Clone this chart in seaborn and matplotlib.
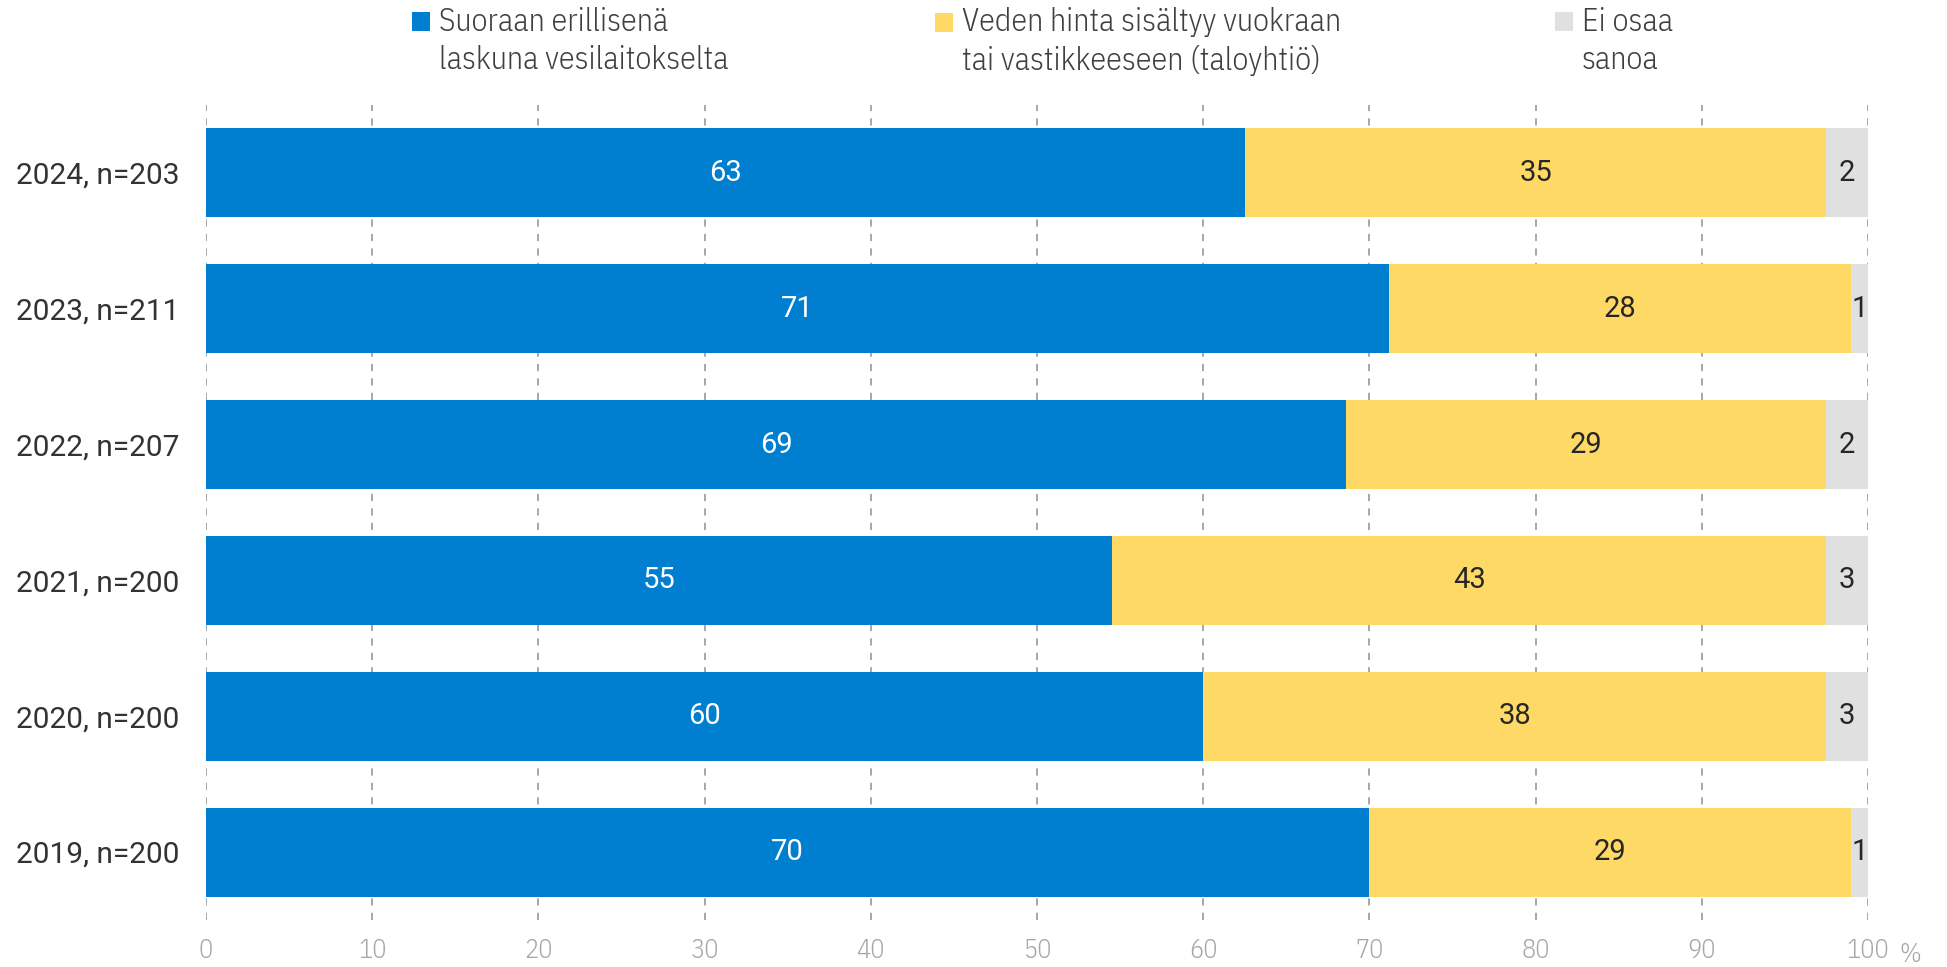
import matplotlib
matplotlib.use("Agg")
import matplotlib.pyplot as plt
import seaborn as sns
import pandas as pd
from matplotlib.font_manager import FontProperties
from matplotlib.legend_handler import HandlerPatch, update_from_first_child
from matplotlib.patches import Rectangle
from matplotlib.container import BarContainer

categories = ["2024, n=203", "2023, n=211", "2022, n=207", "2021, n=200", "2020, n=200", "2019, n=200"]
series_names = ["Suoraan erillisenä\nlaskuna vesilaitokselta",
                "Veden hinta sisältyy vuokraan\ntai vastikkeeseen (taloyhtiö)",
                "Ei osaa\nsanoa"]
blue_vals = [62.5, 71.2, 68.6, 54.5, 60.0, 70.0]
yellow_vals = [35.0, 27.8, 28.9, 43.0, 37.5, 29.0]
grey_vals = [2.5, 1.0, 2.5, 2.5, 2.5, 1.0]
blue_labels = ["63", "71", "69", "55", "60", "70"]
yellow_labels = ["35", "28", "29", "43", "38", "29"]
grey_labels = ["2", "1", "2", "3", "3", "1"]
x_ticks = [0, 10, 20, 30, 40, 50, 60, 70, 80, 90, 100]

colors = ["#007FD0", "#FED966", "#E0E0E0"]

sns.set_theme(style="white")
plt.rcParams["font.family"] = ["Roboto", "DejaVu Sans"]


def cond(size):
    return FontProperties(family="IBM Plex Sans Condensed", weight=300, size=size)


df = pd.DataFrame({"cat": categories, "blue": blue_vals, "yellow": yellow_vals, "grey": grey_vals})
df["c1"] = df["blue"]
df["c2"] = df["blue"] + df["yellow"]
df["c3"] = df["c2"] + df["grey"]

fig = plt.figure(figsize=(19.47, 9.67), dpi=100)
ax = fig.add_axes([206/1947, 1 - 920/967, (1868-206)/1947, (920-105)/967])

bw = 0.655
for col, c, name in [("c3", colors[2], series_names[2]), ("c2", colors[1], series_names[1]), ("c1", colors[0], series_names[0])]:
    sns.barplot(data=df, x=col, y="cat", order=categories, color=c, width=bw,
                orient="h", ax=ax, saturation=1, label=name, linewidth=0)

handles, labels = ax.get_legend_handles_labels()
if ax.get_legend() is not None:
    ax.get_legend().remove()

ax.set_xlim(0, 100)
ax.set_ylim(5.5, -0.5)
ax.set_xlabel("")
ax.set_ylabel("")
ax.set_xticks(x_ticks)
ax.set_xticklabels([str(t) for t in x_ticks], fontproperties=cond(19), color="#A6A6A6")
ax.tick_params(axis="x", length=0, pad=13)
ax.tick_params(axis="y", length=0, pad=19, labelsize=21.5, labelcolor="#333333")
ax.grid(axis="x", color="#A0A0A0", linestyle=(0, (4, 4)), linewidth=1.3)
ax.grid(axis="y", visible=False)
ax.set_axisbelow(True)
for s in ax.spines.values():
    s.set_visible(False)

fig.text(1910/1947, 1 - 954/967, "%", fontproperties=cond(19), color="#A6A6A6", ha="center", va="center")

for i in range(len(categories)):
    b, y, g = blue_vals[i], yellow_vals[i], grey_vals[i]
    ax.text(b/2, i, blue_labels[i], ha="center", va="center", color="white", fontsize=21)
    ax.text(b + y/2, i, yellow_labels[i], ha="center", va="center", color="#262626", fontsize=21)
    ax.text(b + y + g/2, i, grey_labels[i], ha="center", va="center", color="#262626", fontsize=21)

LEG_FS = 23


def top_square(legend, orig_handle, xdescent, ydescent, width, height, fontsize):
    shift = 0.62 * fontsize
    return Rectangle((-xdescent, -ydescent + shift), width, height)


handler = HandlerPatch(patch_func=top_square, update_func=update_from_first_child)
legend_x = [412, 935, 1555]
for k, name in enumerate(series_names):
    idx = labels.index(name)
    leg = fig.legend([handles[idx]], [labels[idx]],
                     loc="upper left", bbox_to_anchor=(legend_x[k]/1947, 1 - 7/967), frameon=False,
                     prop=cond(LEG_FS), handlelength=0.55, handleheight=0.55,
                     handletextpad=0.3, borderaxespad=0.0, borderpad=0.0,
                     labelcolor="#404040",
                     handler_map={BarContainer: handler})
    for t in leg.get_texts():
        t.set_linespacing(1.33)
fig.savefig("out.png", dpi=100)
